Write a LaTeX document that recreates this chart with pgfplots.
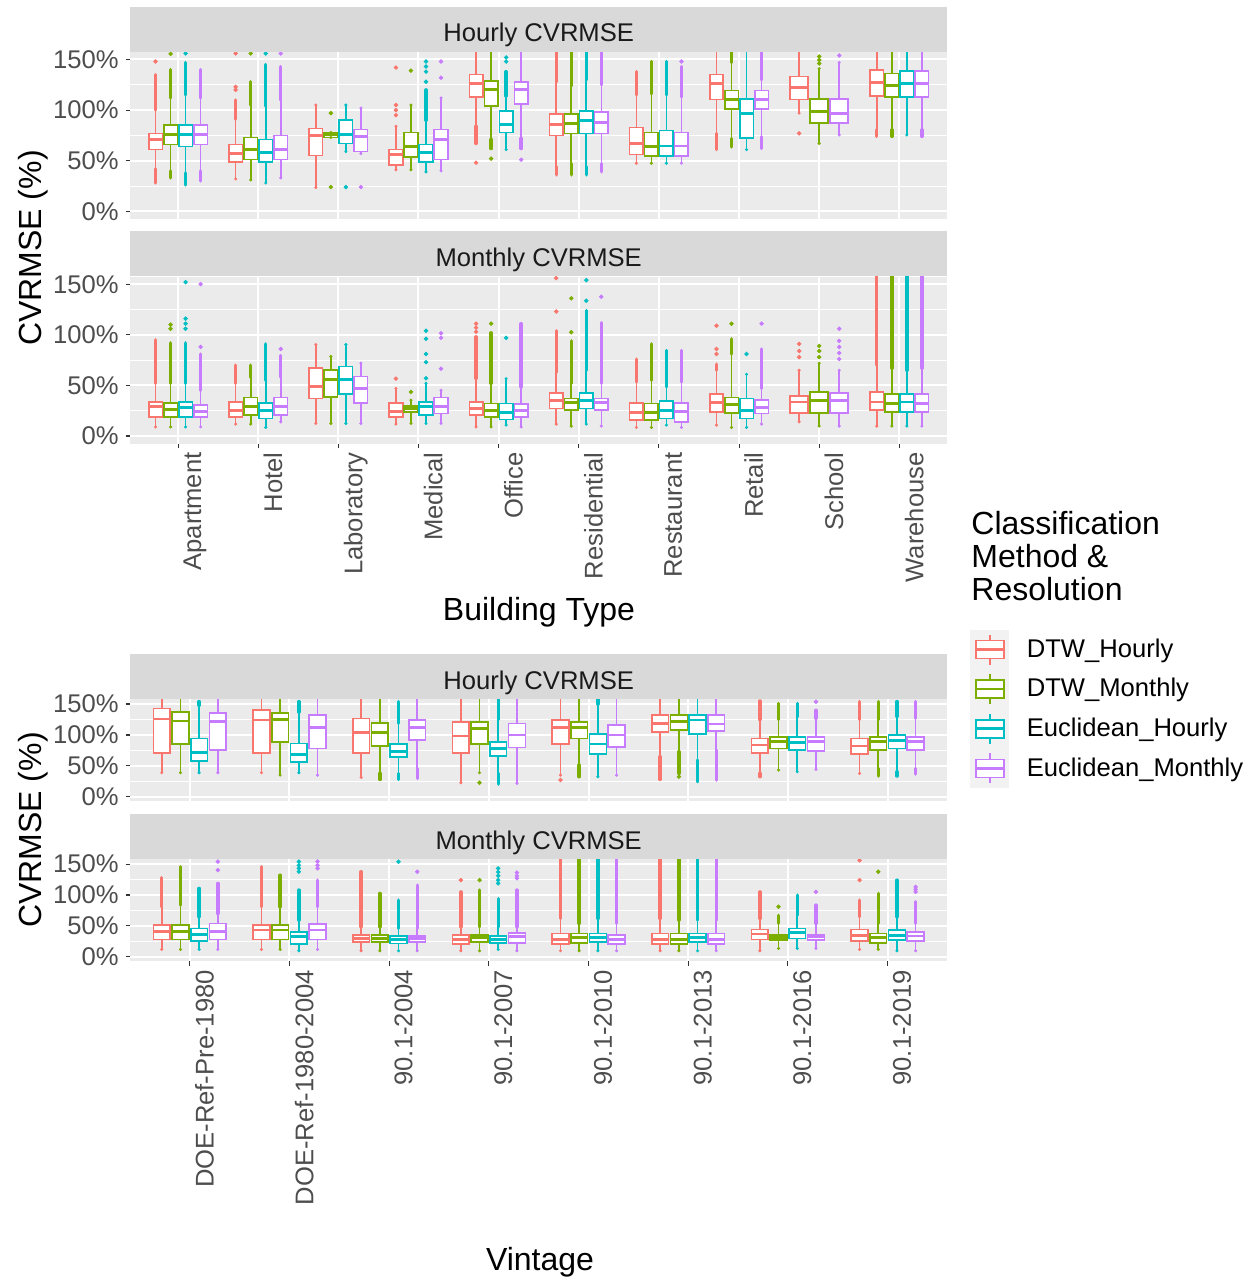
\documentclass[border=0pt]{standalone}
\usepackage{pgfplots}
\pgfplotsset{compat=1.18}
\usepackage{pgfplotstable}
\usepgfplotslibrary{statistics}
\usepackage{fontspec}
\setmainfont{Liberation Sans}
\definecolor{cR}{HTML}{F8766D}
\definecolor{cG}{HTML}{7CAE00}
\definecolor{cT}{HTML}{00BFC4}
\definecolor{cP}{HTML}{C77CFF}
\definecolor{ggbg}{HTML}{EBEBEB}
\definecolor{ggstrip}{HTML}{D9D9D9}
\definecolor{ggtxt}{HTML}{4D4D4D}
\definecolor{ggstriptxt}{HTML}{1A1A1A}
\definecolor{ggtick}{HTML}{333333}
\definecolor{ggkeybg}{HTML}{F2F2F2}
\newcommand\tickfont{\fontsize{12.8pt}{14pt}\selectfont}
\newcommand\axt{\fontsize{16pt}{16.3pt}\selectfont}

% ---------- Panel A: Hourly CVRMSE by building type ----------
\pgfplotstableread{
lw lq med uq uw ohi olo
42 61 71 77 100 135 28
32 49 57.5 66 91 110 32
23.5 55 75 82 105 105 23.5
41 46 56 61 84 84 41
84 113 126 135 160 160 67
44 75 85.6 96 128 160 36
47.5 56 67 83 115 138 47.5
77 110.5 126 135 160 160 61
97 110.5 122 133 160 160 97
80.5 114 127 139.4 160 160 74
}\tAR
\pgfplotstableread{
lw lq med uq uw ohi olo
40 66 76 85 112 140 33
31 51 61 73 105 128 31
73 73 75.6 78 78 78 73
41 53.5 64 78 105 105 41
71 104 120 128.5 160 160 62
47 77 87 96 124 160 36
47.5 54.5 64 78 116 148 47.5
72 101 110.5 119.5 147 160 63.6
67 87.5 99 111 141 141 67
80.5 113 124 136 160 160 74
}\tAG
\pgfplotstableread{
lw lq med uq uw ohi olo
38 64 76 85 115 147 26
28 49 58.5 71 104 145 28
59 67 76 90 105 105 59
39 49 58 66 90 120 39
61 78 85.6 99.4 114 138 61
44 77 90 99 130 160 36
47.5 54.5 64.6 80 115 148 47.5
61 72.5 96.5 111 160 160 61
-50 -50 -50 -50 -50 -50 -50
75.5 113 126 138.4 160 160 75.5
}\tAT
\pgfplotstableread{
lw lq med uq uw ohi olo
40 66 76 85 112 140 30
33 51 61 75 110 143 33
57 59 74 81 102 102 57
40 51 71 81 112 112 40
72 106 120 128 160 160 62
47 77 88 98 125 160 39
47.5 54.5 64.6 78 113 143 47.5
73.7 101 110.5 119.5 130 160 62
75.5 87 97 111 147 147 75.5
80.5 113 126 138.4 160 160 74
}\tAP
\pgfplotstableread{
c o m y
1 -0.28125 0 148
1 -0.09375 1 155.6
1 0.09375 2 156
2 -0.28125 0 120
2 -0.28125 0 123
2 -0.28125 0 156
2 -0.09375 1 156
2 0.09375 2 156
2 0.28125 3 156
3 -0.09375 1 97
3 -0.09375 1 24
3 0.09375 2 24
3 0.28125 3 24
4 -0.28125 0 95
4 -0.28125 0 100
4 -0.28125 0 105
4 -0.28125 0 142
4 -0.09375 1 139
4 0.09375 2 128
4 0.09375 2 138
4 0.09375 2 143
4 0.09375 2 148
4 0.28125 3 132
4 0.28125 3 148
5 -0.28125 0 48
5 -0.09375 1 52
5 0.09375 2 148
5 0.09375 2 152
5 0.28125 3 51
7 0.28125 3 148
9 -0.25 0 77
9 0 1 146
9 0 1 149.5
9 0 1 153
9 0.25 3 154
}\sA

% ---------- Panel B: Monthly CVRMSE by building type ----------
\pgfplotstableread{
lw lq med uq uw ohi olo
9 19 28.8 33.7 52 95 9
11.8 19 25.5 33.7 52 70 11.8
12.4 37 49.1 67.5 90.4 90.4 12.4
11.8 19 24 32.8 47 47 11.8
9 20.6 27.2 33.7 57 98 9
11.8 27.2 35.4 42.6 63 104 11.8
8.5 15.7 22.9 32.8 53.4 76 8.5
10.8 23.9 32.8 41.3 65 71 10.8
14 22.9 33.7 39.3 65 65 14
9.8 25.5 33.7 43.6 70 160 9.8
}\tBR
\pgfplotstableread{
lw lq med uq uw ohi olo
9 19 26.2 32.8 52 92 9
11.8 20.6 28.8 38 58 70 11.8
12.4 38.7 55.7 65.5 78.6 78.6 12.4
12.4 23.9 27.2 29.5 35.4 35.4 12.4
9 19 25.5 32.1 52 102 9
9.8 25.5 32.8 37 52 94 9.8
8.5 15.7 22.9 32.1 55 91 8.5
8.5 22.9 31.4 38 81 96 8.5
9.8 22.9 35.4 43.6 72 72 9.8
9.8 23.9 32.1 41.3 67 160 9.8
}\tBG
\pgfplotstableread{
lw lq med uq uw ohi olo
9 19 28.2 33.7 52 92 9
8.5 17.4 24.9 32.8 55 91 8.5
12.4 41.3 55.7 68.8 90.4 90.4 12.4
12.4 20.6 29.5 33.7 52 52 12.4
10.8 16.4 22.9 32.1 56.7 56.7 10.8
11.8 27.2 35.4 42.6 65 124 11.8
10.8 17.4 25.5 34.7 48.5 84.5 10.8
8.5 17.4 25.5 37 61 61 8.5
-50 -50 -50 -50 -50 -50 -50
9.8 23.9 33.7 41.3 65 160 9.8
}\tBT
\pgfplotstableread{
lw lq med uq uw ohi olo
9 19 24 30.5 45 81 9
14 20.6 29.5 38 58.3 79.6 14
12.4 32.8 46.8 59 72 72 12.4
12.4 22.3 29.5 38 45.2 45.2 12.4
9 19 24.9 31.4 48.5 111 9
9.8 25.5 32.8 37 52 112 9.8
8.5 14.1 23.9 32.8 53.4 84.5 8.5
11.8 22.3 28.2 35.4 47 86 11.8
9.8 22.9 34.7 42.6 65 65 9.8
9.8 23.9 32.1 41.3 67 160 9.8
}\tBP
\pgfplotstableread{
c o m y
1 -0.09375 1 106
1 -0.09375 1 110
1 0.09375 2 106
1 0.09375 2 111
1 0.09375 2 116
1 0.09375 2 152
1 0.28125 3 88
1 0.28125 3 150
2 0.28125 3 86
4 -0.28125 0 56.7
4 -0.09375 1 43.6
4 0.09375 2 57
4 0.09375 2 73
4 0.09375 2 81
4 0.09375 2 96
4 0.09375 2 104
4 0.28125 3 66.5
4 0.28125 3 97
4 0.28125 3 101.5
5 -0.28125 0 103
5 -0.28125 0 107
5 -0.28125 0 111
5 -0.09375 1 111
5 0.09375 2 97
6 -0.28125 0 123
6 -0.28125 0 156
6 -0.09375 1 102.5
6 -0.09375 1 136
6 0.09375 2 133.6
6 0.09375 2 154
6 0.28125 3 137.6
8 -0.28125 0 81
8 -0.28125 0 86
8 -0.28125 0 109
8 -0.09375 1 111
8 0.09375 2 81
8 0.28125 3 111
9 -0.25 0 78
9 -0.25 0 84
9 -0.25 0 91
9 0 1 78
9 0 1 84
9 0 1 89
9 0.25 3 76
9 0.25 3 82
9 0.25 3 88
9 0.25 3 94
9 0.25 3 106
}\sB

% ---------- Panel C: Hourly CVRMSE by vintage ----------
\pgfplotstableread{
lw lq med uq uw ohi olo
38.9 71.2 125.7 143 160 160 38.9
38.9 71.2 124.1 140.3 160 160 38.9
31.3 71.2 103.6 126.8 160 160 31.3
22.7 71.2 98.2 121.4 160 160 22.7
35 85.3 112.2 124.1 160 160 35
64.8 105.2 118.7 132.2 160 160 28
37.8 71.2 83.6 94.4 125 155 32.4
37.8 69 82 94.4 125 154 37.8
}\tCR
\pgfplotstableread{
lw lq med uq uw ohi olo
38.9 85.3 122.5 137.6 160 160 38.9
35 89 125.2 136 160 160 35
37.8 82 103.6 119.8 160 160 28
38.9 85.3 110.6 121.4 160 160 38.9
51.3 94.4 112.2 121.4 160 160 32.4
72.9 107.9 121.4 132.2 160 160 37.8
43.2 78.3 89 97.1 125 151 43.2
45.9 75.5 89 97.1 125 154 33.5
}\tCG
\pgfplotstableread{
lw lq med uq uw ohi olo
38.9 58.3 71.8 94.4 148 154 38.9
38.9 56.7 69 86.3 137 154 38.9
37.8 64.8 72.9 85.3 118.7 154 28
37.8 65.8 78.3 89 125 160 20.5
32.4 69 85.3 101.5 150 160 32.4
59.4 101.5 124.1 132.2 160 160 24.3
40.5 75.5 87.4 97.1 129.5 151 40.5
40.5 78.3 90.7 99.8 130 154 33.5
}\tCT
\pgfplotstableread{
lw lq med uq uw ohi olo
38.9 75.5 121.4 136 160 160 38.9
35 78.3 112.2 132.2 160 160 35
45.9 91.7 112.2 124.1 160 160 29.7
21.6 79.9 99.8 118.7 160 160 21.6
35 81 99.8 116 160 160 35
75.5 106.8 117.6 132.2 160 160 27
44.3 74.5 89 97.1 127 140 44.3
45.9 75.5 89 97.1 127 154 36.7
}\tCP
\pgfplotstableread{
c o m y
5 -0.28125 0 27
4 -0.09375 1 22.7
6 -0.09375 1 32.4
7 0.28125 3 153.8
}\sC

% ---------- Panel D: Monthly CVRMSE by vintage ----------
\pgfplotstableread{
lw lq med uq uw ohi olo
11.9 28.1 40.5 51.3 81 128 11.9
11.9 28.1 43.2 51.3 81 145.7 11.9
9.7 24.3 29.7 35 48.6 137.6 9.7
9.7 20.5 28.1 35 48.6 105 9.7
9.7 20.5 28.1 37.8 62 160 9.7
9.7 20.5 28.1 37.8 62 160 9.7
9.7 28.1 36.7 44.3 62 105 9.7
11.9 25.9 35 44.3 64.8 91.7 11.9
}\tDR
\pgfplotstableread{
lw lq med uq uw ohi olo
11.9 28.1 40.5 51.3 83.6 145.7 11.9
11.9 28.1 43.2 51.3 81 132 11.9
9.7 24.3 29.7 35 48.6 102.5 9.7
9.7 24.3 31.3 35 48.6 108 9.7
9.7 22.7 31.3 37.8 54 160 9.7
9.7 20.5 28.1 37.8 59.4 160 9.7
13.5 27 31.3 35 54 67 13.5
11.9 22.7 31.3 37.8 54 102.5 11.9
}\tDG
\pgfplotstableread{
lw lq med uq uw ohi olo
11.9 25.9 36.2 45.9 64.8 110.6 11.9
9.7 20.5 32.4 40.5 59.4 108 9.7
9.7 21.6 28.1 33.5 45.9 91.7 9.7
11.9 22.7 28.1 33.5 48.6 94 11.9
9.7 24.3 31.3 37.8 62 160 9.7
9.7 24.3 31.3 37.8 59.4 160 9.7
13.5 29.7 38.9 45.9 67.5 99.8 13.5
9.7 27 35 43.2 64.8 124 9.7
}\tDT
\pgfplotstableread{
lw lq med uq uw ohi olo
11.9 28.1 40.5 54 70 118.7 11.9
11.9 28.1 43.2 52.9 81 124 11.9
9.7 24.3 29.7 33.5 45.9 116 9.7
9.7 22.7 32.4 38.9 48.6 108 9.7
9.7 20.5 28.1 35 54 160 9.7
9.7 20.5 28.1 37.8 59.4 160 9.7
13.5 27 32.4 35 54 83.6 13.5
9.7 25.9 33.5 40.5 54 89 9.7
}\tDP
\pgfplotstableread{
c o m y
1 0.28125 3 140.3
1 0.28125 3 153.8
2 0.09375 2 137.6
2 0.09375 2 143
2 0.09375 2 148
2 0.09375 2 154
2 0.28125 3 143
2 0.28125 3 148
2 0.28125 3 154
3 0.09375 2 153.8
3 0.28125 3 137.6
4 -0.28125 0 124
4 -0.09375 1 124
4 0.09375 2 118.7
4 0.09375 2 124
4 0.09375 2 131
4 0.09375 2 137
4 0.09375 2 143
4 0.28125 3 127
4 0.28125 3 131
4 0.28125 3 136
7 -0.09375 1 81
7 0.28125 3 105
8 -0.28125 0 124
8 -0.28125 0 156
8 -0.09375 1 137.6
8 0.28125 3 105
8 0.28125 3 109
8 0.28125 3 113
}\sD

% boxes of one method: table, colour, offset, rows, box width
\newcommand{\boxes}[5]{%
  \pgfplotsinvokeforeach{#4}{%
    \pgfplotstablegetelem{##1}{lw}\of{#1}\let\vlw\pgfplotsretval
    \pgfplotstablegetelem{##1}{lq}\of{#1}\let\vlq\pgfplotsretval
    \pgfplotstablegetelem{##1}{med}\of{#1}\let\vmed\pgfplotsretval
    \pgfplotstablegetelem{##1}{uq}\of{#1}\let\vuq\pgfplotsretval
    \pgfplotstablegetelem{##1}{uw}\of{#1}\let\vuw\pgfplotsretval
    \pgfmathsetmacro\vpos{##1+1+(#3)}%
    \edef\tmp{\noexpand\addplot[draw=#2, fill=white, line width=0.8pt,
      boxplot/box extend=#5,
      boxplot prepared={draw position=\vpos, lower whisker=\vlw,
        lower quartile=\vlq, median=\vmed, upper quartile=\vuq,
        upper whisker=\vuw}] coordinates {};}%
    \tmp
  }%
}
% runs of outliers of one method: table, colour, offset, offset of row 8
\newcommand{\outs}[4]{%
  \addplot[forget plot, draw=none, mark=none, error bars/.cd, y dir=plus, y explicit,
    error mark=none, error bar style={draw=#2, solid, line width=1.7pt, line cap=round}]
    table[x expr={\coordindex+1+(\coordindex==8 ? #4 : #3)}, y=uw,
      y error expr={\thisrow{ohi}-\thisrow{uw}}] {#1};
  \addplot[forget plot, draw=none, mark=none, error bars/.cd, y dir=minus, y explicit,
    error mark=none, error bar style={draw=#2, solid, line width=1.7pt, line cap=round}]
    table[x expr={\coordindex+1+(\coordindex==8 ? #4 : #3)}, y=lw,
      y error expr={\thisrow{lw}-\thisrow{olo}}] {#1};
}
\newcommand{\sparse}[1]{%
  \addplot[forget plot, only marks, scatter, scatter src=explicit, mark=*, mark size=0.9pt,
    scatter/use mapped color={draw=mapped color, fill=mapped color}]
    table[x expr={\thisrow{c}+\thisrow{o}}, y=y, meta=m] {#1};
}

\tikzset{
  strip/.style={fill=ggstrip, minimum width=408.7pt, minimum height=22.5pt,
    inner sep=0pt, anchor=south},
  striptext/.style={anchor=base, yshift=5pt, inner sep=0pt, font=\tickfont, text=ggstriptxt},
}
\pgfplotsset{
  gg/.style={
    scale only axis, width=408.7pt, anchor=north west,
    ymin=-7.5, ymax=157.5, ytick={0,50,100,150},
    yticklabels={0\%,50\%,100\%,150\%},
    minor ytick={25,75,125},
    axis background/.style={fill=ggbg},
    xmajorgrids, ymajorgrids, yminorgrids,
    major grid style={white, line width=1pt},
    minor grid style={white, line width=0.5pt},
    axis x line*=bottom, axis y line*=left,
    axis line style={draw=none},
    tick align=outside, major tick length=2.2pt, minor tick length=0pt,
    tick style={color=ggtick, line width=0.55pt},
    tick label style={font=\tickfont, text=ggtxt},
    boxplot/draw direction=y,
    boxplot/whisker extend=0,
    boxplot/every median/.style={line width=1.4pt},
    colormap={ggm}{rgb255=(248,118,109) rgb255=(124,174,0) rgb255=(0,191,196) rgb255=(199,124,255)},
    point meta min=0, point meta max=3,
  },
  rotlabels/.style={xticklabel style={xshift=0.5pt, rotate=90, anchor=north east, inner sep=2pt}},
  ggkey/.style={legend image code/.code={
    \fill[ggkeybg] (0pt,-9.7pt) rectangle (19pt,9.7pt);
    \draw[line width=0.8pt] (9.5pt,-7.5pt) -- (9.5pt,-4.5pt) (9.5pt,4.5pt) -- (9.5pt,7.5pt);
    \draw[line width=0.8pt, fill=white] (2.5pt,-4.5pt) rectangle (16.5pt,4.5pt);
    \draw[line width=1.3pt] (2.5pt,0pt) -- (16.5pt,0pt);
    \path[draw=none, fill=none] (0pt,0pt) -- (28pt,0pt);
  }},
}

\begin{document}
\begin{tikzpicture}
\useasboundingbox (0,0) rectangle (626.5pt,-640pt);

% ===== Panel A =====
\begin{axis}[gg, at={(65pt,-25.95pt)}, height=83.5pt,
  xmin=0.4, xmax=10.6, xtick={1,...,10}, xticklabels={}, xtick style={draw=none},
  extra description/.code={\node[strip] at (0.5,1) {};
    \node[striptext] at (0.5,1) {Hourly CVRMSE};}]
\boxes{\tAR}{cR}{-0.28125}{0,...,7,9}{0.169}
\boxes{\tAR}{cR}{-0.25}{8}{0.225}
\boxes{\tAG}{cG}{-0.09375}{0,...,7,9}{0.169}
\boxes{\tAG}{cG}{0}{8}{0.225}
\boxes{\tAT}{cT}{0.09375}{0,...,7,9}{0.169}
\boxes{\tAP}{cP}{0.28125}{0,...,7,9}{0.169}
\boxes{\tAP}{cP}{0.25}{8}{0.225}
\outs{\tAR}{cR}{-0.28125}{-0.25}
\outs{\tAG}{cG}{-0.09375}{0}
\outs{\tAT}{cT}{0.09375}{0.09375}
\outs{\tAP}{cP}{0.28125}{0.25}
\sparse{\sA}
\end{axis}

% ===== Panel B =====
\begin{axis}[gg, rotlabels, at={(65pt,-138.3pt)}, height=83.5pt,
  xmin=0.4, xmax=10.6, xtick={1,...,10},
  xticklabels={Apartment,Hotel,Laboratory,Medical,Office,Residential,Restaurant,Retail,School,Warehouse},
  extra description/.code={\node[strip] at (0.5,1) {};
    \node[striptext] at (0.5,1) {Monthly CVRMSE};},
  legend entries={DTW\_Hourly,DTW\_Monthly,Euclidean\_Hourly,Euclidean\_Monthly},
  legend cell align=left,
  legend style={at={(axis description cs:1.0282,-1.1145)}, anchor=north west,
    draw=none, fill=none, inner sep=0pt, outer sep=0pt, row sep=0pt, column sep=0pt,
    font=\tickfont, text=black, nodes={inner sep=0pt, outer sep=0pt}}]
\addlegendimage{draw=cR, ggkey}
\addlegendimage{draw=cG, ggkey}
\addlegendimage{draw=cT, ggkey}
\addlegendimage{draw=cP, ggkey}
\boxes{\tBR}{cR}{-0.28125}{0,...,7,9}{0.169}
\boxes{\tBR}{cR}{-0.25}{8}{0.225}
\boxes{\tBG}{cG}{-0.09375}{0,...,7,9}{0.169}
\boxes{\tBG}{cG}{0}{8}{0.225}
\boxes{\tBT}{cT}{0.09375}{0,...,7,9}{0.169}
\boxes{\tBP}{cP}{0.28125}{0,...,7,9}{0.169}
\boxes{\tBP}{cP}{0.25}{8}{0.225}
\outs{\tBR}{cR}{-0.28125}{-0.25}
\outs{\tBG}{cG}{-0.09375}{0}
\outs{\tBT}{cT}{0.09375}{0.09375}
\outs{\tBP}{cP}{0.28125}{0.25}
\sparse{\sB}
\end{axis}

% ===== Panel C =====
\begin{axis}[gg, at={(65pt,-349.7pt)}, height=51pt,
  xmin=0.4, xmax=8.6, xtick={1,...,8}, xticklabels={}, xtick style={draw=none},
  extra description/.code={\node[strip] at (0.5,1) {};
    \node[striptext] at (0.5,1) {Hourly CVRMSE};}]
\boxes{\tCR}{cR}{-0.28125}{0,...,7}{0.169}
\boxes{\tCG}{cG}{-0.09375}{0,...,7}{0.169}
\boxes{\tCT}{cT}{0.09375}{0,...,7}{0.169}
\boxes{\tCP}{cP}{0.28125}{0,...,7}{0.169}
\outs{\tCR}{cR}{-0.28125}{-0.28125}
\outs{\tCG}{cG}{-0.09375}{-0.09375}
\outs{\tCT}{cT}{0.09375}{0.09375}
\outs{\tCP}{cP}{0.28125}{0.28125}
\sparse{\sC}
\end{axis}

% ===== Panel D =====
\begin{axis}[gg, rotlabels, at={(65pt,-429.7pt)}, height=51pt,
  xmin=0.4, xmax=8.6, xtick={1,...,8},
  xticklabels={DOE-Ref-Pre-1980,DOE-Ref-1980-2004,90.1-2004,90.1-2007,90.1-2010,90.1-2013,90.1-2016,90.1-2019},
  extra description/.code={\node[strip] at (0.5,1) {};
    \node[striptext] at (0.5,1) {Monthly CVRMSE};}]
\boxes{\tDR}{cR}{-0.28125}{0,...,7}{0.169}
\boxes{\tDG}{cG}{-0.09375}{0,...,7}{0.169}
\boxes{\tDT}{cT}{0.09375}{0,...,7}{0.169}
\boxes{\tDP}{cP}{0.28125}{0,...,7}{0.169}
\outs{\tDR}{cR}{-0.28125}{-0.28125}
\outs{\tDG}{cG}{-0.09375}{-0.09375}
\outs{\tDT}{cT}{0.09375}{0.09375}
\outs{\tDP}{cP}{0.28125}{0.28125}
\sparse{\sD}
\end{axis}

% titles
\node[rotate=90, anchor=base, font=\axt] at (20.5pt,-124pt) {CVRMSE (\%)};
\node[rotate=90, anchor=base, font=\axt] at (20.5pt,-415pt) {CVRMSE (\%)};
\node[anchor=base, font=\axt] at (269.5pt,-310pt) {Building Type};
\node[anchor=base, font=\axt] at (270pt,-635pt) {Vintage};
\node[anchor=base west, font=\axt, align=left, inner sep=0pt] at (485.5pt,-300pt)
  {Classification\\Method \&\\Resolution};
\end{tikzpicture}
\end{document}
